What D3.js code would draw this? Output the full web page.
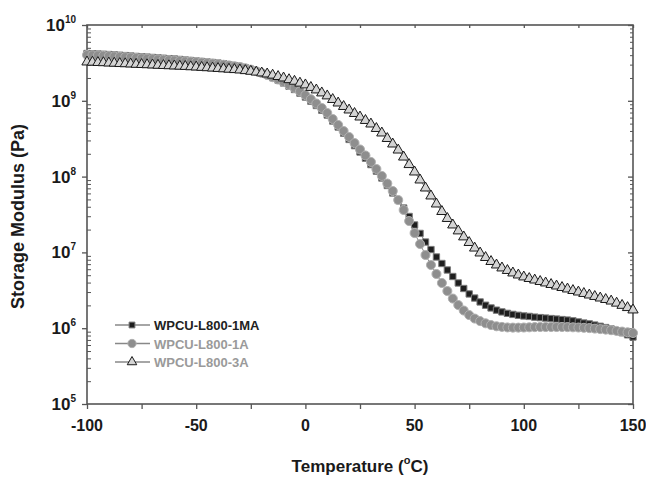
<!DOCTYPE html>
<html><head><meta charset="utf-8">
<script src="https://cdn.jsdelivr.net/npm/d3@7"></script>
<style>body{margin:0;background:#fff;} svg{display:block;font-family:"Liberation Sans",Arial,sans-serif;}</style>
</head><body>
<svg id="c" width="646" height="479"></svg>
<script>
const temps = d3.range(-100, 150.01, 2.5);
const seriesNames = ["WPCU-L800-1MA","WPCU-L800-1A","WPCU-L800-3A"];
const mod1MA = [4.21e9,4.18e9,4.14e9,4.11e9,4.08e9,4.03e9,3.99e9,3.95e9,3.90e9,3.85e9,3.81e9,3.77e9,3.73e9,3.68e9,3.64e9,3.60e9,3.56e9,3.51e9,3.45e9,3.40e9,3.35e9,3.30e9,3.25e9,3.20e9,3.15e9,3.08e9,2.99e9,2.91e9,2.84e9,2.72e9,2.60e9,2.47e9,2.33e9,2.18e9,2.02e9,1.87e9,1.72e9,1.56e9,1.41e9,1.26e9,1.12e9,9.88e8,8.67e8,7.51e8,6.49e8,5.41e8,4.51e8,3.74e8,3.09e8,2.56e8,2.11e8,1.75e8,1.44e8,1.18e8,9.58e7,7.63e7,6.08e7,4.84e7,3.85e7,2.98e7,2.30e7,1.78e7,1.37e7,1.09e7,8.70e6,7.14e6,5.86e6,4.81e6,3.95e6,3.34e6,2.83e6,2.50e6,2.22e6,2.01e6,1.85e6,1.73e6,1.64e6,1.57e6,1.52e6,1.48e6,1.45e6,1.43e6,1.40e6,1.38e6,1.36e6,1.34e6,1.32e6,1.30e6,1.28e6,1.25e6,1.21e6,1.17e6,1.14e6,1.10e6,1.06e6,1.02e6,9.76e5,9.24e5,8.72e5,8.18e5,7.65e5];
const mod1A = [4.02e9,3.99e9,3.96e9,3.93e9,3.90e9,3.85e9,3.81e9,3.77e9,3.73e9,3.68e9,3.64e9,3.60e9,3.56e9,3.52e9,3.48e9,3.44e9,3.40e9,3.36e9,3.32e9,3.29e9,3.25e9,3.20e9,3.15e9,3.10e9,3.06e9,2.99e9,2.93e9,2.86e9,2.79e9,2.69e9,2.58e9,2.46e9,2.33e9,2.19e9,2.05e9,1.91e9,1.77e9,1.62e9,1.48e9,1.33e9,1.19e9,1.05e9,9.21e8,8.04e8,6.90e8,5.75e8,4.80e8,3.99e8,3.33e8,2.77e8,2.28e8,1.90e8,1.56e8,1.26e8,1.02e8,8.11e7,6.45e7,4.91e7,3.63e7,2.59e7,1.80e7,1.29e7,9.24e6,6.82e6,5.19e6,3.95e6,3.09e6,2.46e6,2.02e6,1.71e6,1.49e6,1.34e6,1.24e6,1.16e6,1.10e6,1.06e6,1.04e6,1.024e6,1.018e6,1.018e6,1.021e6,1.027e6,1.034e6,1.037e6,1.037e6,1.037e6,1.037e6,1.037e6,1.034e6,1.027e6,1.021e6,1.012e6,1.003e6,9.88e5,9.73e5,9.58e5,9.41e5,9.21e5,9.02e5,8.83e5,8.64e5];
const mod3A = [3.25e9,3.23e9,3.20e9,3.18e9,3.15e9,3.13e9,3.10e9,3.08e9,3.06e9,3.03e9,3.01e9,2.99e9,2.97e9,2.94e9,2.92e9,2.90e9,2.88e9,2.86e9,2.84e9,2.81e9,2.79e9,2.76e9,2.73e9,2.70e9,2.67e9,2.64e9,2.61e9,2.58e9,2.55e9,2.50e9,2.45e9,2.39e9,2.33e9,2.26e9,2.18e9,2.09e9,2.00e9,1.90e9,1.81e9,1.71e9,1.62e9,1.50e9,1.39e9,1.27e9,1.16e9,1.04e9,9.35e8,8.41e8,7.56e8,6.80e8,6.11e8,5.50e8,4.94e8,4.31e8,3.76e8,3.18e8,2.69e8,2.24e8,1.81e8,1.44e8,1.15e8,9.02e7,7.07e7,5.55e7,4.35e7,3.46e7,2.80e7,2.30e7,1.92e7,1.60e7,1.35e7,1.14e7,9.82e6,8.56e6,7.58e6,6.82e6,6.23e6,5.77e6,5.35e6,5.03e6,4.74e6,4.52e6,4.32e6,4.13e6,3.95e6,3.77e6,3.60e6,3.44e6,3.29e6,3.14e6,3.00e6,2.87e6,2.74e6,2.62e6,2.50e6,2.39e6,2.28e6,2.14e6,2.00e6,1.87e6,1.74e6];
const xTicks = [-100,-50,0,50,100,150];
const xMinor = [-75,-25,25,75,125];
const yExps = [5,6,7,8,9,10];

const svg = d3.select("#c");
const L=87,R=633,T=25,B=404;
const x = d3.scaleLinear().domain([-100,150]).range([L,R]);
const y = d3.scaleLog().domain([1e5,1e10]).range([B,T]);
const axisCol="#555", txt="#1a1a1a";

const minorY=[];
for(let e=5;e<10;e++) for(let m=2;m<=9;m++) minorY.push(m*Math.pow(10,e));

const g = svg.append("g");
g.append("g").attr("transform",`translate(${L},0)`)
 .call(d3.axisLeft(y).tickValues(yExps.map(e=>Math.pow(10,e))).tickSize(5).tickFormat(""))
 .call(s=>{s.select(".domain").remove(); s.selectAll("line").attr("stroke",axisCol).attr("stroke-width",1.3);});
g.append("g").attr("transform",`translate(${L},0)`)
 .call(d3.axisRight(y).tickValues(minorY).tickSize(4).tickFormat(""))
 .call(s=>{s.select(".domain").remove(); s.selectAll("line").attr("stroke",axisCol).attr("stroke-width",1);});
g.append("g").attr("transform",`translate(${R},0)`)
 .call(d3.axisLeft(y).tickValues(minorY).tickSize(3).tickFormat(""))
 .call(s=>{s.select(".domain").remove(); s.selectAll("line").attr("stroke",axisCol).attr("stroke-width",1);});
g.append("g").attr("transform",`translate(${R},0)`)
 .call(d3.axisLeft(y).tickValues(yExps.map(e=>Math.pow(10,e))).tickSize(5).tickFormat(""))
 .call(s=>{s.select(".domain").remove(); s.selectAll("line").attr("stroke",axisCol).attr("stroke-width",1.3);});
g.append("g").attr("transform",`translate(0,${B})`)
 .call(d3.axisBottom(x).tickValues(xTicks.concat(xMinor)).tickSize(5).tickFormat(""))
 .call(s=>{s.select(".domain").remove(); s.selectAll("line").attr("stroke",axisCol).attr("stroke-width",1.3);});
g.append("g").attr("transform",`translate(0,${T})`)
 .call(d3.axisBottom(x).tickValues(xTicks.concat(xMinor)).tickSize(3).tickFormat(""))
 .call(s=>{s.select(".domain").remove(); s.selectAll("line").attr("stroke",axisCol).attr("stroke-width",1.3);});
g.append("rect").attr("x",L).attr("y",T).attr("width",R-L).attr("height",B-T)
 .attr("fill","none").attr("stroke",axisCol).attr("stroke-width",1.6);

svg.append("g").selectAll("text").data(xTicks).join("text")
 .attr("x",d=>x(d)).attr("y",B+27).attr("text-anchor","middle")
 .attr("font-size",16).attr("font-weight","bold").attr("fill",txt).text(d=>d);
const yl = svg.append("g").selectAll("text").data(yExps).join("text")
 .attr("x",L-11).attr("y",d=>y(Math.pow(10,d))+6).attr("text-anchor","end")
 .attr("font-size",17).attr("font-weight","bold").attr("fill",txt);
yl.append("tspan").text("10");
yl.append("tspan").attr("dy",-8).attr("font-size",10).text(d=>d);

svg.append("text").attr("transform",`translate(24,${(T+B)/2+2}) rotate(-90)`)
 .attr("text-anchor","middle").attr("font-size",18).attr("font-weight","bold").attr("fill",txt)
 .text("Storage Modulus (Pa)");
const xt = svg.append("text").attr("x",(L+R)/2).attr("y",472).attr("text-anchor","middle")
 .attr("font-size",17).attr("font-weight","bold").attr("fill",txt);
xt.append("tspan").text("Temperature (");
xt.append("tspan").attr("dy",-8).attr("font-size",11).text("o");
xt.append("tspan").attr("dy",8).text("C)");

const styles = [
 {vals:mod1MA, shape:d3.symbolSquare, size:40, fill:"#1e1e1e", stroke:"#7a7a7a", sw:1, text:"#222"},
 {vals:mod1A, shape:d3.symbolCircle, size:64, fill:"#8e8e8e", stroke:"#b0b0b0", sw:1, text:"#9a9a9a"},
 {vals:mod3A, shape:d3.symbolTriangle, size:46, fill:"#d4d4d4", stroke:"#1a1a1a", sw:1, text:"#9a9a9a"}
];
const line = d3.line().x(d=>x(d[0])).y(d=>y(d[1]));
styles.forEach(st=>{
 const pts = temps.map((t,i)=>[t,st.vals[i]]);
 svg.append("path").datum(pts).attr("d",line).attr("fill","none").attr("stroke","#888").attr("stroke-width",1);
 svg.append("g").selectAll("path").data(pts).join("path")
  .attr("transform",d=>`translate(${x(d[0])},${y(d[1])})`)
  .attr("d",d3.symbol().type(st.shape).size(st.size))
  .attr("fill",st.fill).attr("stroke",st.stroke).attr("stroke-width",st.sw);
});

const lg = svg.append("g");
styles.forEach((st,i)=>{
 const yy = 325 + i*18.5;
 lg.append("line").attr("x1",115).attr("x2",150).attr("y1",yy).attr("y2",yy).attr("stroke","#888").attr("stroke-width",1.5);
 lg.append("path").attr("transform",`translate(132,${yy})`).attr("d",d3.symbol().type(st.shape).size(st.size*0.85))
  .attr("fill",st.fill).attr("stroke",st.stroke).attr("stroke-width",st.sw);
 lg.append("text").attr("x",154).attr("y",yy+5).attr("font-size",13).attr("font-weight","bold")
  .attr("fill",st.text).text(seriesNames[i]);
});
</script>
</body></html>
